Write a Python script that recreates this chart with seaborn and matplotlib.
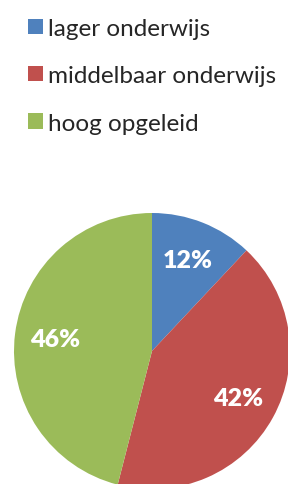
import matplotlib
matplotlib.use("Agg")
import matplotlib.pyplot as plt
import seaborn as sns
from matplotlib.patches import Patch

categories = ["lager onderwijs", "middelbaar onderwijs", "hoog opgeleid"]
values = [12, 42, 46]
colors = ["#4F81BD", "#C0504D", "#9BBB59"]

sns.set_theme(style="white")
plt.rcParams["font.family"] = ["Lato", "DejaVu Sans"]
palette = sns.color_palette(colors)

W, H = 288, 485
fig = plt.figure(figsize=(W / 100, H / 100), dpi=100)
fig.patch.set_facecolor("white")

cx, cy, r = 152, 352, 138
ax = fig.add_axes([(cx - r) / W, (H - cy - r) / H, 2 * r / W, 2 * r / H])
wedges, texts, autotexts = ax.pie(
    values, colors=palette, startangle=90, counterclock=False,
    autopct="%d%%", pctdistance=0.71, radius=1,
    wedgeprops=dict(linewidth=0),
    textprops=dict(color="white", fontsize=18, fontweight="heavy"),
)
ax.set_xlim(-1, 1)
ax.set_ylim(-1, 1)
ax.set_aspect("equal")
ax.axis("off")

handles = [Patch(facecolor=c, edgecolor="none") for c in palette]
fig.legend(handles, categories, loc="upper left",
           bbox_to_anchor=(11 / W, 1 - 2 / H), frameon=False,
           fontsize=17.5, handlelength=0.6, handleheight=0.6,
           handletextpad=0.24, labelspacing=1.08, borderpad=0.2)

fig.savefig("out.png", dpi=100)
